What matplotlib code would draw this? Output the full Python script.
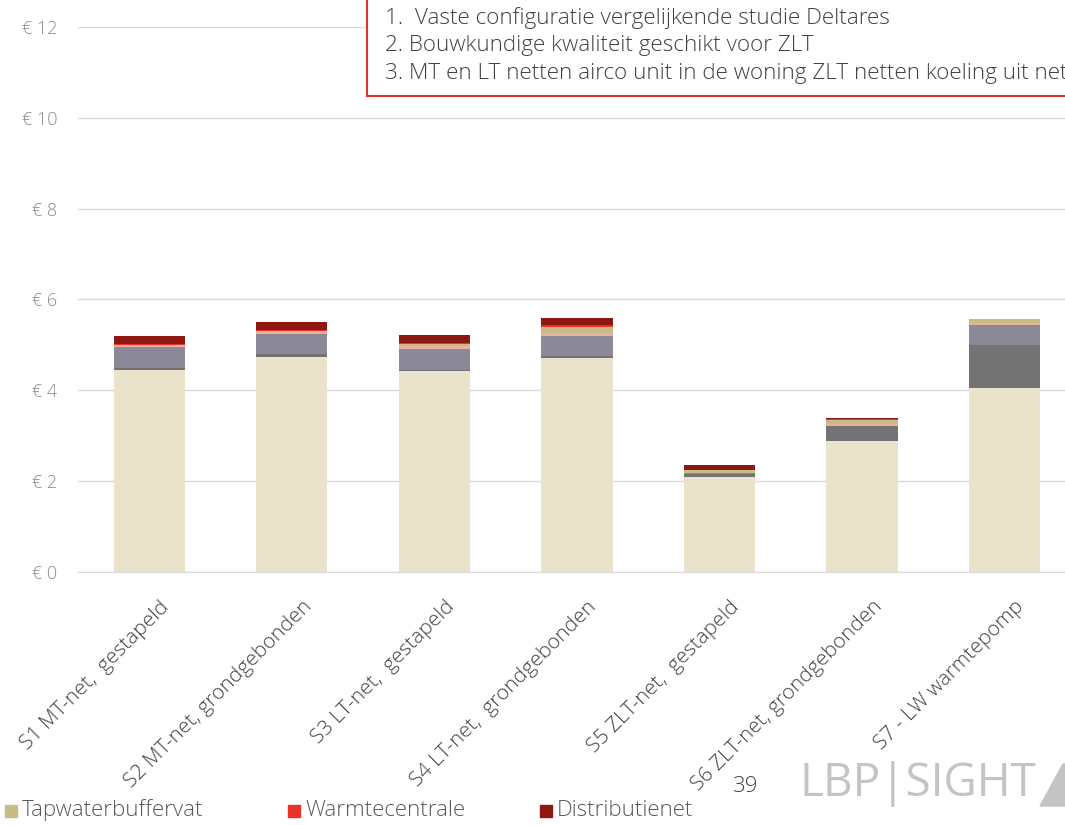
import numpy as np
import matplotlib.pyplot as plt
import matplotlib.transforms as mtransforms
from matplotlib.patches import Rectangle, Polygon

plt.rcParams['font.family'] = ['Open Sans', 'DejaVu Sans']

categories = ['S1 MT-net,  gestapeld', 'S2 MT-net, grondgebonden', 'S3 LT-net,  gestapeld',
              'S4 LT-net,  grondgebonden', 'S5 ZLT-net,  gestapeld', 'S6 ZLT-net, grondgebonden',
              'S7 - LW warmtepomp']

# stacked cost components, bottom to top (euro)
basis = [4.44, 4.74, 4.42, 4.71, 2.09, 2.885, 4.04]
grijs = [0.045, 0.06, 0.03, 0.05, 0.07, 0.33, 0.955]
paars = [0.46, 0.44, 0.455, 0.44, 0.01, 0.0, 0.44]
roze = [0.045, 0.06, 0.08, 0.066, 0.02, 0.037, 0.058]
tapwaterbuffervat = [0.0, 0.0, 0.03, 0.125, 0.05, 0.10, 0.088]
warmtecentrale = [0.03, 0.035, 0.022, 0.037, 0.01, 0.02, 0.0]
distributienet = [0.18, 0.18, 0.18, 0.16, 0.11, 0.02, 0.0]

series = [basis, grijs, paars, roze, tapwaterbuffervat, warmtecentrale, distributienet]
colors = ['#EAE2CB', '#737373', '#8B8898', '#E8B2A2', '#C9BB84', '#E8322B', '#8F1712']

yticks = [0, 2, 4, 6, 8, 10, 12]
ytick_labels = ['€ 0', '€ 2', '€ 4', '€ 6', '€ 8', '€ 10', '€ 12']

notes = ['Belangrijkste uitgangspunten',
         '1.  Vaste configuratie vergelijkende studie Deltares',
         '2. Bouwkundige kwaliteit geschikt voor ZLT',
         '3. MT en LT netten airco unit in de woning ZLT netten koeling uit net']

fig = plt.figure(figsize=(10.65, 8.25), dpi=100)
ax = fig.add_axes([0.0733, 0.3067, 0.9267, 0.6606])

x = np.arange(len(categories))
bottom = np.zeros(len(categories))
for vals, c in zip(series, colors):
    ax.bar(x, vals, width=0.5, bottom=bottom, color=c, edgecolor='none', zorder=3)
    bottom += np.array(vals)

ax.set_xlim(-0.5, 6.425)
ax.set_ylim(0, 12)
ax.set_yticks(yticks)
ax.set_yticklabels(ytick_labels, color='#8C8C8C', fontsize=13, fontweight='light')
ax.yaxis.grid(True, color='#D9D9D9', linewidth=1, zorder=0)
ax.tick_params(axis='y', length=0, pad=15)
ax.tick_params(axis='x', length=0, pad=18)
for s in ['top', 'right', 'left']:
    ax.spines[s].set_visible(False)
ax.spines['bottom'].set_color('#D9D9D9')

ax.set_xticks(x)
ax.set_xticklabels(categories, rotation=45, ha='right', rotation_mode='anchor',
                   color='#404040', fontsize=15, fontweight='light')
offset = mtransforms.ScaledTranslation(0.10, 0, fig.dpi_scale_trans)
for lbl in ax.get_xticklabels():
    lbl.set_transform(lbl.get_transform() + offset)

# note box with red border, running off the top and right edge
fig.patches.append(Rectangle((367 / 1065, 1 - 96 / 825), 0.7, 0.2, transform=fig.transFigure,
                             facecolor='white', edgecolor='#E0332B', linewidth=1.5, zorder=5))
line_y = [-11, 18, 46, 74]
for txt, yy in zip(notes, line_y):
    fig.text(385 / 1065, 1 - yy / 825, txt, fontsize=16.2, color='#404040', va='center',
             ha='left', fontweight='light', zorder=6)

# legend row at the bottom
leg_items = [('Tapwaterbuffervat', '#C9BB84', 5), ('Warmtecentrale', '#E8322B', 288),
             ('Distributienet', '#8F1712', 540)]
for name, c, px in leg_items:
    fig.patches.append(Rectangle((px / 1065, 1 - 817 / 825), 12 / 1065, 12 / 825,
                                 transform=fig.transFigure, color=c))
    fig.text((px + 17) / 1065, 1 - 810 / 825, name, fontsize=16, color='#595959',
             va='center', fontweight='light')

fig.text(733 / 1065, 1 - 787 / 825, '39', fontsize=16, color='#404040', va='center',
         fontweight='light')
fig.text(800 / 1065, 1 - 784 / 825, 'LBP|SIGHT', fontsize=33, color='#C4C4C4', va='center')
fig.patches.append(Polygon([[1040 / 1065, 1 - 806 / 825], [1063 / 1065, 1 - 764 / 825],
                            [1065 / 1065, 1 - 764 / 825], [1065 / 1065, 1 - 806 / 825]],
                           closed=True, transform=fig.transFigure, color='#C4C4C4'))

fig.savefig('out.png', dpi=100)
